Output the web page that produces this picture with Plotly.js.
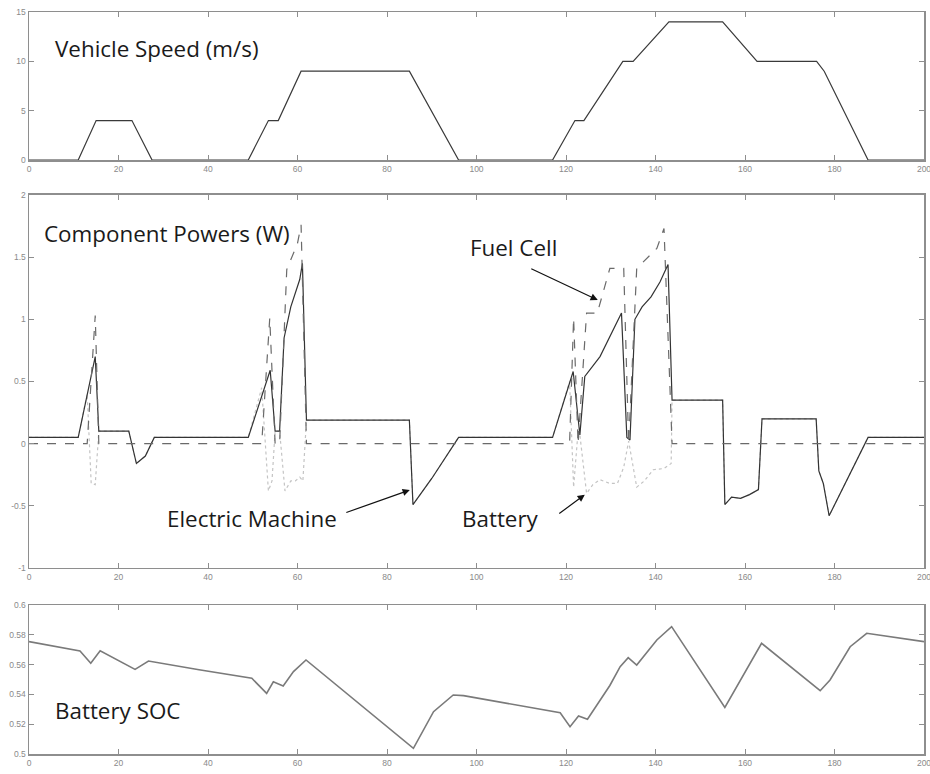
<!DOCTYPE html>
<html>
<head>
<meta charset="utf-8">
<script src="https://cdn.plot.ly/plotly-3.0.1.min.js"></script>
<style>html,body{margin:0;padding:0;background:#fff;}#chart{width:930px;height:774px;}</style>
</head>
<body>
<div id="chart"></div>
<script>
// ---------------- data ----------------
// Vehicle speed (m/s)
var speedT = [0, 11, 15, 23, 27.5, 49, 53.5, 55.7, 60.8, 85, 96, 117, 122, 124, 132.7, 135, 143, 155, 162.7, 176, 177.7, 187.5, 200];
var speedV = [0, 0, 4, 4, 0, 0, 4, 4, 9, 9, 0, 0, 4, 4, 10, 10, 14, 14, 10, 10, 9, 0, 0];

// Electric machine power (W)
var emT = [0, 11, 14.8, 15.6, 22.3, 24, 26, 28, 49, 53.9, 55, 56, 57, 58.5, 60.5, 61.1, 62, 85, 85.8, 90, 96, 117, 121.6, 123.1, 124.2, 127.6, 132.4, 133.6, 134.3, 135.4, 137, 139, 141, 142.8, 143.7, 155, 155.5, 157, 159, 161, 163, 163.8, 175.9, 176.5, 177.5, 178.8, 187.5, 200];
var emP = [500, 500, 7000, 1000, 1000, -1600, -1000, 500, 500, 5900, 1000, 1000, 8500, 11000, 13200, 14500, 1900, 1900, -4900, -2800, 500, 500, 5800, 700, 5400, 7000, 10500, 500, 300, 10000, 11000, 11800, 13000, 14400, 3500, 3500, -4900, -4300, -4400, -4100, -3700, 2000, 2000, -2200, -3200, -5800, 500, 500];

// Fuel cell power (W)
var fcT = [0, 13, 14.8, 15.6, 52, 53.8, 55, 56, 57.6, 60, 60.8, 62, 120.8, 121.7, 122.7, 124.6, 127, 129.8, 132.9, 134, 135.8, 140.3, 141.9, 143.7, 200];
var fcP = [0, 0, 10300, 0, 0, 10100, 0, 0, 14000, 16100, 17600, 0, 0, 10100, 0, 10500, 10500, 14100, 14100, 0, 14100, 15700, 17300, 0, 0];

// Battery power (W)
var batT = [0, 11, 13, 13.9, 14.8, 15.6, 22.3, 24, 26, 28, 49, 52, 53.5, 54.3, 55, 56, 57.2, 58.5, 59.5, 60.5, 61.2, 62, 85, 85.8, 90, 96, 117, 120.8, 121.7, 122.7, 123.1, 124.6, 126, 127.6, 129.8, 131.5, 132.9, 134, 135.8, 137.5, 139.5, 141.9, 143.5, 143.7, 155, 155.5, 157, 159, 161, 163, 163.8, 175.9, 176.5, 177.5, 178.8, 187.5, 200];
var batP = [500, 500, 4000, -3200, -3300, 1000, 1000, -1600, -1000, 500, 500, 4500, -3800, -3000, 1000, 1000, -3800, -3000, -3000, -2700, -3000, 1900, 1900, -4900, -2800, 500, 500, 5000, -3500, 1000, 700, -4000, -3300, -2900, -3200, -3200, -1900, 200, -3500, -3000, -2100, -2000, -1600, 3500, 3500, -4900, -4300, -4400, -4100, -3700, 2000, 2000, -2200, -3200, -5800, 500, 500];

// Battery state of charge
var socT = [0, 11.4, 13.8, 15.9, 23.7, 26.7, 38, 49.8, 53.1, 54.6, 56.8, 59.1, 61.9, 85.9, 90.4, 94.8, 97.1, 118.7, 120.9, 122.8, 124.8, 129.8, 132.1, 133.9, 135.8, 140.3, 143.6, 155.5, 163.7, 176.8, 179, 183.5, 187.2, 189.4, 200];
var socV = [0.5754, 0.5691, 0.5609, 0.5693, 0.5568, 0.5624, 0.5565, 0.5508, 0.5407, 0.5485, 0.5456, 0.5553, 0.5631, 0.5038, 0.5284, 0.5396, 0.5392, 0.5277, 0.5183, 0.5255, 0.5233, 0.546, 0.5586, 0.5647, 0.5597, 0.5765, 0.5855, 0.5313, 0.5743, 0.5425, 0.5497, 0.572, 0.581, 0.580, 0.5754];

// tick labels
var xTicks = [0, 20, 40, 60, 80, 100, 120, 140, 160, 180, 200];
var speedTicks = [0, 5, 10, 15];
var powerTickVals = [-10000, -5000, 0, 5000, 10000, 15000, 20000];
var powerTickText = ['-1', '-0.5', '0', '0.5', '1', '1.5', '2'];
var socTickVals = [0.5, 0.52, 0.54, 0.56, 0.58, 0.6];
var socTickText = ['0.5', '0.52', '0.54', '0.56', '0.58', '0.6'];

// ---------------- chart ----------------
var axisCol = '#8e8e8e';
var tickFont = {family: 'Liberation Sans, Arial, sans-serif', size: 8.5, color: '#8a8a8a'};
function xax(anchor) {
  return {anchor: anchor, domain: [0, 1], range: [0, 200], tickvals: xTicks, ticktext: xTicks.map(String),
    ticks: 'inside', ticklen: 5, tickcolor: axisCol, tickwidth: 1, showline: true, linecolor: axisCol, linewidth: 1.5,
    mirror: 'allticks', showgrid: false, zeroline: false, tickfont: tickFont, ticklabeloverflow: 'allow', fixedrange: true};
}
function yax(anchor, dom, rng, vals, text) {
  return {anchor: anchor, domain: dom, range: rng, tickvals: vals, ticktext: text,
    ticks: 'inside', ticklen: 5, tickcolor: axisCol, tickwidth: 1, showline: true, linecolor: axisCol, linewidth: 1.5,
    mirror: 'allticks', showgrid: false, zeroline: false, tickfont: tickFont, ticklabeloverflow: 'allow', fixedrange: true};
}

var traces = [
  {x: speedT, y: speedV, xaxis: 'x', yaxis: 'y', mode: 'lines', line: {color: '#3a3a3a', width: 1.2}},
  {x: batT, y: batP, xaxis: 'x2', yaxis: 'y2', mode: 'lines', line: {color: '#c4c4c4', width: 1.2, dash: 'dot'}},
  {x: emT, y: emP, xaxis: 'x2', yaxis: 'y2', mode: 'lines', line: {color: '#333333', width: 1.2}},
  {x: fcT, y: fcP, xaxis: 'x2', yaxis: 'y2', mode: 'lines', line: {color: '#6a6a6a', width: 1.2, dash: 'dash'}},
  {x: socT, y: socV, xaxis: 'x3', yaxis: 'y3', mode: 'lines', line: {color: '#7a7a7a', width: 1.6}}
];

var labelFont = {family: 'Open Sans, Lato, sans-serif', size: 22.4, color: '#1a1a1a'};
function lab(text, xr, yr, x, y) {
  return {text: text, xref: xr, yref: yr, x: x, y: y, xanchor: 'left', yanchor: 'middle', showarrow: false, font: labelFont};
}
function arrow(x, y, ax, ay) {
  return {text: '', xref: 'x2', yref: 'y2', x: x, y: y, ax: ax, ay: ay, showarrow: true,
    arrowhead: 2, arrowsize: 1.2, arrowwidth: 1.2, arrowcolor: '#111'};
}

var layout = {
  width: 930, height: 774,
  margin: {l: 29, r: 6, t: 12, b: 20},
  paper_bgcolor: '#fff', plot_bgcolor: '#fff',
  showlegend: false,
  xaxis: xax('y'),
  yaxis: yax('x', [0.8005, 1], [0, 15], speedTicks, speedTicks.map(String)),
  xaxis2: xax('y2'),
  yaxis2: yax('x2', [0.2507, 0.7534], [-10000, 20000], powerTickVals, powerTickText),
  xaxis3: xax('y3'),
  yaxis3: yax('x3', [0, 0.2008], [0.5, 0.6], socTickVals, socTickText),
  annotations: [
    lab('Vehicle Speed (m/s)', 'x', 'y', 5.4, 11.35),
    lab('Component Powers (W)', 'x2', 'y2', 2.9, 16940),
    lab('Fuel Cell', 'x2', 'y2', 98.1, 15740),
    lab('Electric Machine', 'x2', 'y2', 30.4, -5990),
    lab('Battery', 'x2', 'y2', 96.4, -5990),
    lab('Battery SOC', 'x3', 'y3', 5.4, 0.5295),
    {text: 'x 10<sup>4</sup>', xref: 'x2', yref: 'y2', x: 0.8, y: 20900, xanchor: 'left', yanchor: 'middle',
      showarrow: false, font: {family: 'Liberation Sans, Arial, sans-serif', size: 8, color: '#8a8a8a'}},
    arrow(85.1, -3730, -65, 23),
    arrow(127.1, 11550, -68, -32),
    arrow(124.2, -4100, -27, 20)
  ]
};

Plotly.newPlot('chart', traces, layout, {displayModeBar: false, staticPlot: true});
</script>
</body>
</html>
